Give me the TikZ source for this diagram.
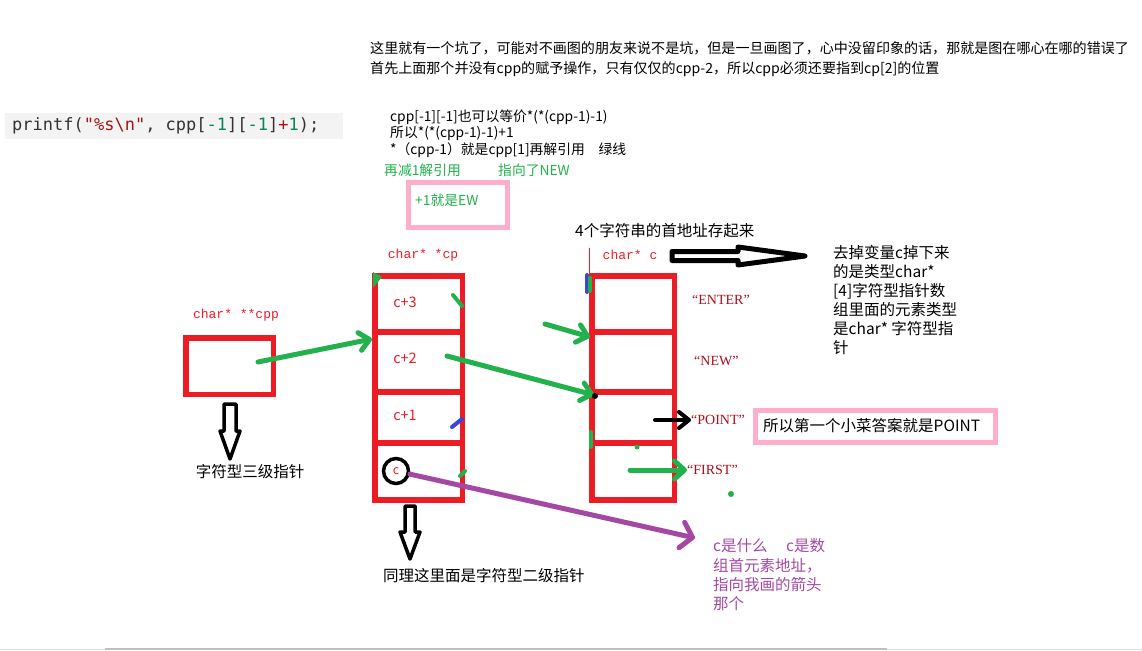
\documentclass[tikz,border=0pt]{standalone}
\usepackage{fontspec}
\setmainfont{Noto Sans CJK SC}
\newfontfamily\codefont{DejaVu Sans Mono}
\newfontfamily\typefont{Liberation Mono}
\newfontfamily\strfont{Liberation Serif}
\usetikzlibrary{arrows.meta, positioning}

\definecolor{paintred}{HTML}{ED1C24}
\definecolor{paintgreen}{HTML}{22B14C}
\definecolor{paintblue}{HTML}{3F48CC}
\definecolor{paintpurple}{HTML}{A349A4}
\definecolor{paintpink}{HTML}{FFAEC9}
\definecolor{strred}{HTML}{A8101C}
\definecolor{codegray}{HTML}{F3F3F3}
\definecolor{codeink}{HTML}{333333}
\definecolor{codestr}{HTML}{A31515}
\definecolor{codenum}{HTML}{098658}

\tikzset{
  toptext/.style={font=\fontsize{14.05}{20}\selectfont, align=left, inner sep=0pt},
  small/.style={font=\fontsize{13.8}{16.5}\selectfont, align=left, inner sep=0pt},
  note/.style={font=\fontsize{15.5}{19}\selectfont, align=left, inner sep=0pt},
  greennote/.style={small, text=paintgreen},
  purplenote/.style={note, text=paintpurple, font=\fontsize{15.5}{19.3}\selectfont},
  codeline/.style={font=\codefont\fontsize{17}{20}\selectfont, text=codeink, inner sep=0pt},
  typelabel/.style={font=\typefont\fontsize{13}{15}\selectfont, text=paintred, inner sep=0pt},
  celltext/.style={font=\fontsize{14.5}{16}\selectfont, text=paintred, inner sep=0pt},
  strlabel/.style={font=\strfont\fontsize{14}{16}\selectfont, text=strred, inner sep=0pt},
  cell/.style={draw=paintred, line width=5.5pt, inner sep=0pt},
  pinkbox/.style={draw=paintpink, line width=5pt, inner sep=0pt},
  ring/.style={circle, draw=black, line width=3.5pt, minimum size=25pt, inner sep=0pt,
    text=paintred, font=\fontsize{12.5}{13}\selectfont},
  hollow/.style={draw=black, fill=white, line width=3.5pt, line join=round},
  scribble/.style={line width=4pt, line cap=round},
  greenarrow/.style={paintgreen, line width=5pt, line cap=round,
    -{Straight Barb[length=10pt, width=18pt, round]}},
  blackarrow/.style={black, line width=4pt, line cap=round,
    -{Straight Barb[length=10pt, width=16pt, round]}},
  purplearrow/.style={paintpurple, line width=5pt, line cap=round,
    -{Straight Barb[length=11pt, width=26pt, round]}}
}

\begin{document}
\begin{tikzpicture}[x=1pt,y=-1pt]
\useasboundingbox (0,0) rectangle (1142,650);
% Remark at the top
\node[toptext, anchor=west] (remark) at (370,59) {这里就有一个坑了，可能对不画图的朋友来说不是坑，但是一旦画图了，心中没留印象的话，那就是图在哪心在哪的错误了\\首先上面那个并没有cpp的赋予操作，只有仅仅的cpp-2，所以cpp必须还要指到cp[2]的位置};
% The line of code on its grey strip
\fill[codegray] (5,113) rectangle (343,139);
\node[codeline, anchor=west] (code) at (12,126) {printf(\textcolor{codestr}{"\%s\textbackslash n"}, cpp[\textcolor{codenum}{-1}][\textcolor{codenum}{-1}]\textcolor{codestr}{+}\textcolor{codenum}{1});};
% How the expression unfolds
\node[small, anchor=west] (expl) at (390,133.5) {cpp[-1][-1]也可以等价*(*(cpp-1)-1)\\所以*(*(cpp-1)-1)+1\\{}*（cpp-1）就是cpp[1]再解引用\hspace{1em}绿线};
\node[greennote, anchor=west] (minusone) at (384,170) {再减1解引用};
\node[greennote, anchor=west] (tonew) at (498,170) {指向了NEW};
% Pink box with the +1 step
\node[pinkbox, minimum width=99pt, minimum height=45pt] (ewbox) at (458,205) {};
\node[greennote, anchor=west] (ew) at (415,200) {+1就是EW};
% Heading over the array of strings
\node[note, anchor=west] (store) at (575,231) {4个字符串的首地址存起来};
% Type labels
\node[typelabel] (cpplab) at (236,315) {char* **cpp};
\node[typelabel] (cplab) at (423,255) {char* *cp};
\node[typelabel] (clab) at (630,255) {char* c};
% The box of cpp
\node[cell, minimum width=87.5pt, minimum height=56.5pt] (cppbox) at (229.5,366) {};
% The columns of cp and c, top row first
\foreach \i/\y/\h in {0/303.9/56.25, 1/362/60, 2/417.5/51, 3/471.6/57.25} {
  \node[cell, minimum width=87.5pt, minimum height=\h pt] (cp\i) at (418.5,\y) {};
  \node[cell, minimum width=82.5pt, minimum height=\h pt] (c\i) at (633,\y) {};
}
% Contents of cp
\node[celltext] (cpl0) at (405,302) {c+3};
\node[celltext] (cpl1) at (405,358) {c+2};
\node[celltext] (cpl2) at (405,415) {c+1};
\node[ring] (cring) at (396,471) {c};
% The strings c points to
\node[strlabel, anchor=west] (s0) at (692,300) {“ENTER”};
\node[strlabel, anchor=west] (s1) at (694,361) {“NEW”};
\node[strlabel, anchor=west] (s2) at (691,420) {“POINT”};
\node[strlabel, anchor=west] (s3) at (687,470) {“FIRST”};
% Thin red stroke over the c column
\coordinate (ctop) at (589,248);
\draw[paintred, line width=1pt] (ctop) -- (c0.north west);
% Big hollow arrow next to char* c
\draw[hollow, line width=5pt] (672,251.5) -- (738,251.5) -- (738,247) -- (805,256) -- (738,265) -- (738,260.5) -- (672,260.5) -- cycle;
\node[note, anchor=west] (reason) at (833,300.5) {去掉变量c掉下来\\的是类型char*\\{}[4]字符型指针数\\组里面的元素类型\\是char* 字符型指\\针};
% The answer
\node[pinkbox, minimum width=240pt, minimum height=32pt] (answerbox) at (875.5,426.5) {};
\node[note, anchor=west] (answer) at (763,426) {所以第一个小菜答案就是POINT};
% Hollow arrows down to the kinds of pointer
\draw[hollow] (224,404) -- (236,404) -- (236,431) -- (240,431) -- (230,459) -- (220,431) -- (224,431) -- cycle;
\node[note] (cpptype) at (250,472) {字符型三级指针};
\draw[hollow] (405,506) -- (415,506) -- (415,532) -- (420,532) -- (410,559) -- (400,532) -- (405,532) -- cycle;
\node[note, anchor=west] (cptype) at (383,576) {同理这里面是字符型二级指针};
% Green lines: cpp to cp, cp to c, c to the strings
\coordinate (cppdot) at (258,362);
\coordinate (cpin) at (372,339);
\draw[greenarrow] (cppdot) -- (cpin);
\coordinate (cpout) at (447,356);
\coordinate (pointin) at (594,395);
\draw[greenarrow] (cpout) -- (pointin);
\coordinate (newfrom) at (545,324);
\coordinate (newin) at (590,337);
\draw[greenarrow] (newfrom) -- (newin);
\coordinate (firstfrom) at (630,470);
\draw[greenarrow] (firstfrom) -- (s3.west);
% Black arrow to POINT
\coordinate (pointfrom) at (655,420);
\draw[blackarrow] (pointfrom) -- (s2.west);
% Purple arrow from c
\coordinate (ctip) at (695,538);
\draw[purplearrow] (cring) -- (ctip);
\node[purplenote, anchor=west] (cnote) at (713,575) {c是什么\hspace{1.2em}c是数\\组首元素地址，\\指向我画的箭头\\那个};
% Small marks left on the cells
\fill[paintgreen] (373,272) -- (382,277) -- (373,288) -- cycle;
\draw[scribble, paintgreen] (453,295) -- (462,306);
\draw[scribble, paintblue] (452,427) -- (462,419);
\draw[scribble, paintgreen] (460,476) -- (465,471);
\draw[scribble, paintblue] (587,275) -- (587,292);
\draw[scribble, paintgreen] (590,278) -- (590,291);
\draw[scribble, paintgreen] (591,432) -- (591,447);
\fill[black] (595,396) circle (3);
\fill[paintgreen] (637,447) circle (2.5);
\fill[paintgreen] (731,494) circle (3);
% Scroll bar at the bottom edge
\draw[gray!25, line width=1pt] (0,649) -- (1142,649);
\draw[gray!50, line width=2pt] (105,649) -- (887,649);
\end{tikzpicture}
\end{document}
